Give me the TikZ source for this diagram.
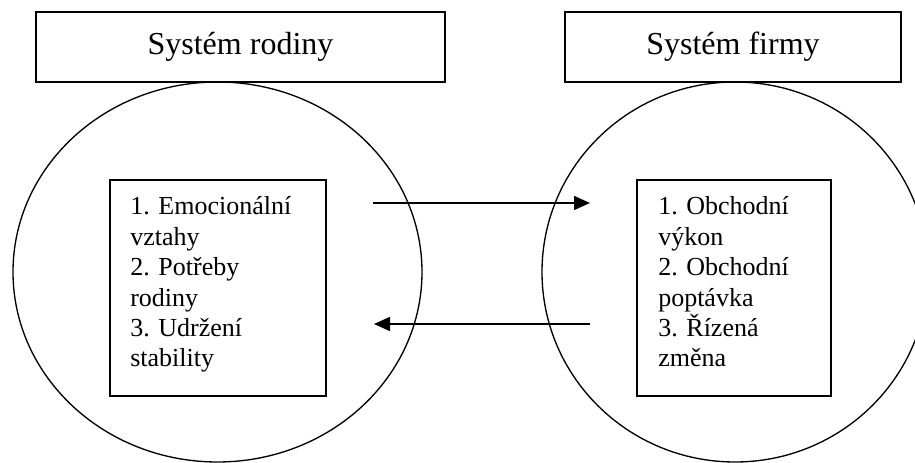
\documentclass[tikz,border=0pt]{standalone}
\usepackage{fontspec}
\setmainfont{Liberation Serif}
\usetikzlibrary{shapes.geometric,arrows.meta}
\begin{document}
\begin{tikzpicture}[x=0.75pt,y=-0.75pt,
  titlebox/.style={draw,line width=1.1pt,inner sep=0pt,outer sep=0pt,
    font=\fontsize{24}{28}\selectfont},
  sysring/.style={draw,ellipse,line width=1pt,inner sep=0pt,outer sep=0pt,
    minimum height=285pt},
  listbox/.style={draw,line width=1.1pt,inner sep=0pt,outer sep=0pt,
    minimum height=162pt},
  listtext/.style={anchor=base west,inner sep=0pt,align=left,
    font=\fontsize{19.5}{22.8}\selectfont},
  flow/.style={line width=1.1pt,-{Triangle[length=12pt,width=10.5pt]}}]
\useasboundingbox (0,0) rectangle (915,463);

% the two systems
\node[sysring,minimum width=306.75pt] (famring) at (217.5,272) {};
\node[sysring,minimum width=289.5pt] (firmring) at (735,272) {};

% titles
\node[titlebox,minimum width=306.75pt,minimum height=52.5pt] (famtitle) at (240.5,47) {Systém rodiny};
\node[titlebox,minimum width=252pt,minimum height=52.5pt] (firmtitle) at (733,47) {Systém firmy};

% inner lists
\node[listbox,minimum width=162pt] (famlist) at (218,288) {};
\node[listbox,minimum width=145.5pt] (firmlist) at (734,288) {};
\node[listtext] (famtext) at (130,367) {1. Emocionální\\vztahy\\2. Potřeby\\rodiny\\3. Udržení\\stability};
\node[listtext] (firmtext) at (658,367) {1. Obchodní\\výkon\\2. Obchodní\\poptávka\\3. Řízená\\změna};

% exchange between the systems
\coordinate (outA) at (373,203);
\coordinate (inA) at (590,203);
\coordinate (outB) at (590,324);
\coordinate (inB) at (374,324);
\draw[flow] (outA) -- (inA);
\draw[flow] (outB) -- (inB);
\end{tikzpicture}
\end{document}
